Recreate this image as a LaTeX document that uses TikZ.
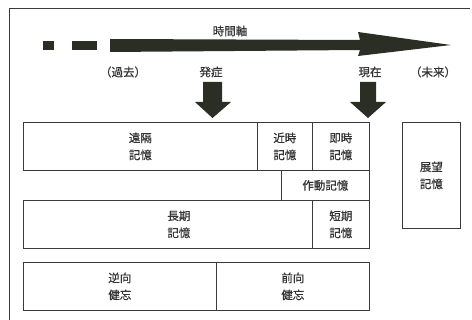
\documentclass[tikz,border=0pt]{standalone}
\usepackage{fontspec}
\setmainfont{Noto Sans CJK JP}[FakeBold=0.6]
\definecolor{ink}{HTML}{2B2E24}
\definecolor{frame}{HTML}{3A3A3A}
\begin{document}
\begin{tikzpicture}[x=1pt,y=-1pt,
  mbox/.style={draw=frame,line width=0.7pt,inner sep=0pt,align=center,font=\fontsize{11.5}{17}\selectfont,text=black!80,anchor=north west},
  lbl/.style={font=\fontsize{11.5}{14}\selectfont,text=black!80,inner sep=0pt},
  fat/.style={fill=ink,draw=none}]
\useasboundingbox (0,0) rectangle (472,320);
\fill[white] (0,0) rectangle (472,320);
% outer frame (top and left visible)
\draw[frame,line width=0.8pt] (470,8) -- (9,8) -- (9,320);
% time axis
\fill[ink] (43,41) rectangle (54,50);
\fill[ink] (72,41) rectangle (97,50);
\fill[ink] (110,39) -- (360,40) -- (358,32) -- (451,45) -- (358,56) -- (360,50) -- (110,52) -- cycle;
\node[lbl] (axis) at (230,31) {時間軸};
\node[lbl] (past) at (123,72) {（過去）};
\node[lbl] (onset) at (211,72) {発症};
\node[lbl] (now) at (370,72) {現在};
\node[lbl] (future) at (433,72) {（未来）};
% down arrows
\fill[ink] (203,82) -- (222,82) -- (222,102) -- (231,102) -- (212.5,118) -- (195,102) -- (203,102) -- cycle;
\fill[ink] (360,82) -- (376,82) -- (376,102) -- (386,102) -- (368,118) -- (350,102) -- (360,102) -- cycle;
% boxes
\node[mbox,minimum width=234,minimum height=48] (remote) at (23,122) {遠隔\\記憶};
\node[mbox,minimum width=55,minimum height=48] (recent) at (257,122) {近時\\記憶};
\node[mbox,minimum width=57,minimum height=48] (immediate) at (312,122) {即時\\記憶};
\node[mbox,minimum width=88,minimum height=30] (working) at (281,170) {作動記憶};
\node[mbox,minimum width=289,minimum height=48] (long) at (23,200) {\hspace*{22pt}長期\\\hspace*{22pt}記憶};
\node[mbox,minimum width=57,minimum height=48] (short) at (312,200) {短期\\記憶};
\node[mbox,minimum width=193,minimum height=48] (retro) at (23,262) {逆向\\健忘};
\node[mbox,minimum width=153,minimum height=48] (antero) at (216,262) {前向\\健忘};
\node[mbox,minimum width=58,minimum height=106] (prosp) at (402,122) {展望\\記憶};
\end{tikzpicture}
\end{document}
